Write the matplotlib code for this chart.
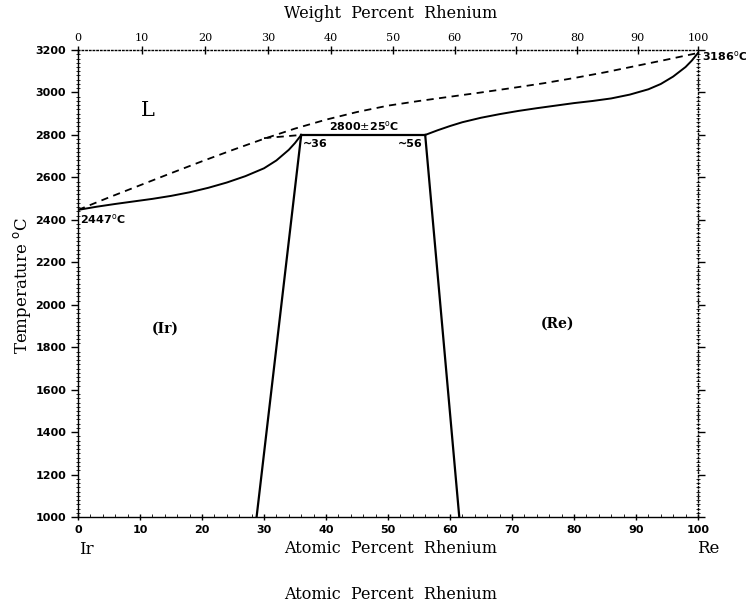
import matplotlib.pyplot as plt
import numpy as np
from matplotlib.ticker import MultipleLocator

# liquidus (dashed), at.% Re vs temperature
liq_x = [0, 5, 10, 15, 20, 25, 30, 35, 40, 45, 50, 55, 60, 65, 70, 75, 80, 85, 90, 95, 100]
liq_t = [2447, 2506, 2563, 2620, 2676, 2730, 2782, 2830, 2872, 2908, 2938, 2960, 2980,
         3000, 3021, 3043, 3068, 3095, 3125, 3155, 3186]

# solidus of (Ir)
sol_ir_x = [0, 3, 6, 9, 12, 15, 18, 21, 24, 27, 30, 32, 34, 35, 36]
sol_ir_t = [2447, 2462, 2475, 2487, 2499, 2513, 2530, 2551, 2576, 2606, 2643, 2680,
            2730, 2762, 2800]

# solidus of (Re)
sol_re_x = [56, 58, 60, 62, 65, 68, 71, 74, 77, 80, 83, 86, 89, 92, 94, 96, 98, 99, 100]
sol_re_t = [2800, 2822, 2842, 2860, 2881, 2898, 2913, 2926, 2938, 2950, 2960, 2972,
            2990, 3015, 3040, 3075, 3120, 3150, 3186]

# solvus lines
solv_ir_x = [36, 28.8]
solv_re_x = [56, 61.5]
solv_t = [2800, 1000]

# peritectic line
perit_x = [36, 56]
perit_t = [2800, 2800]
perit_dash_x = [30, 36]
perit_dash_t = [2785, 2800]

wt_ticks = [0, 10, 20, 30, 40, 50, 60, 70, 80, 90, 100]
M_RE, M_IR = 186.207, 192.217


def wt_to_at(w):
    w = np.asarray(w, dtype=float)
    a = w / M_RE
    b = (100 - w) / M_IR
    return 100 * a / (a + b)


fig = plt.figure(figsize=(7.46, 6.07), dpi=100)
ax = fig.add_axes([0.1046, 0.148, 0.831, 0.7696])

ax.plot(liq_x, liq_t, 'k--', lw=1.3, dashes=(4, 3))
ax.plot(perit_dash_x, perit_dash_t, 'k--', lw=1.3, dashes=(4, 3))
ax.plot(sol_ir_x, sol_ir_t, 'k-', lw=1.4)
ax.plot(sol_re_x, sol_re_t, 'k-', lw=1.4)
ax.plot(solv_ir_x, solv_t, 'k-', lw=1.6)
ax.plot(solv_re_x, solv_t, 'k-', lw=1.6)
ax.plot(perit_x, perit_t, 'k-', lw=1.6)

ax.set_xlim(0, 100)
ax.set_ylim(1000, 3200)

# spines
ax.spines['top'].set_linestyle(':')
ax.spines['right'].set_linestyle(':')
for s in ax.spines.values():
    s.set_linewidth(1.0)

ax.xaxis.set_major_locator(MultipleLocator(10))
ax.xaxis.set_minor_locator(MultipleLocator(2))
ax.yaxis.set_major_locator(MultipleLocator(200))
ax.yaxis.set_minor_locator(MultipleLocator(20))
ax.tick_params(axis='x', which='major', direction='inout', length=5, width=1,
               labelsize=8)
ax.tick_params(axis='x', which='minor', direction='in', length=2)
ax.tick_params(axis='y', which='major', direction='out', length=5, width=1,
               labelsize=8, right=True)
ax.tick_params(axis='y', which='minor', direction='inout', length=3, right=True)
for lab in ax.get_xticklabels() + ax.get_yticklabels():
    lab.set_fontweight('bold')

# top axis: weight percent
top = ax.secondary_xaxis('top', functions=(lambda x: x, lambda x: x))
top.set_xticks(wt_to_at(wt_ticks))
top.set_xticklabels([str(w) for w in wt_ticks], family='DejaVu Serif', fontsize=8)
top.tick_params(direction='inout', length=6, width=1, pad=2)
top.spines['top'].set_visible(False)

serif = 'DejaVu Serif'
fig.text(0.523, 0.977, 'Weight  Percent  Rhenium', ha='center', va='center',
         family=serif, fontsize=11.5)
fig.text(0.523, 0.097, 'Atomic  Percent  Rhenium', ha='center', va='center',
         family=serif, fontsize=11.5)
fig.text(0.523, 0.020, 'Atomic  Percent  Rhenium', ha='center', va='center',
         family=serif, fontsize=11.5)
fig.text(0.116, 0.094, 'Ir', ha='center', va='center', family=serif, fontsize=12)
fig.text(0.949, 0.097, 'Re', ha='center', va='center', family=serif, fontsize=12)
fig.text(0.03, 0.53, r'Temperature $^{\rm o}$C', rotation=90, ha='center',
         va='center', family=serif, fontsize=12)

ax.text(11.3, 2915, 'L', family=serif, fontsize=15, ha='center', va='center')
ax.text(14, 1890, '(Ir)', family=serif, fontsize=10, fontweight='bold',
        ha='center', va='center')
ax.text(77.3, 1913, '(Re)', family=serif, fontsize=10, fontweight='bold',
        ha='center', va='center')
ax.text(0.3, 2405, r'2447$^{\rm o}$C', fontsize=8, fontweight='bold',
        ha='left', va='center')
ax.text(100.6, 3170, r'3186$^{\rm o}$C', fontsize=8, fontweight='bold',
        ha='left', va='center', clip_on=False)
ax.text(46.2, 2808, r'2800$\pm$25$^{\rm o}$C', fontsize=8, fontweight='bold',
        ha='center', va='bottom')
ax.text(36.3, 2758, '~36', fontsize=8, fontweight='bold', ha='left', va='center')
ax.text(55.6, 2758, '~56', fontsize=8, fontweight='bold', ha='right', va='center')

fig.savefig('out.png', dpi=100)
